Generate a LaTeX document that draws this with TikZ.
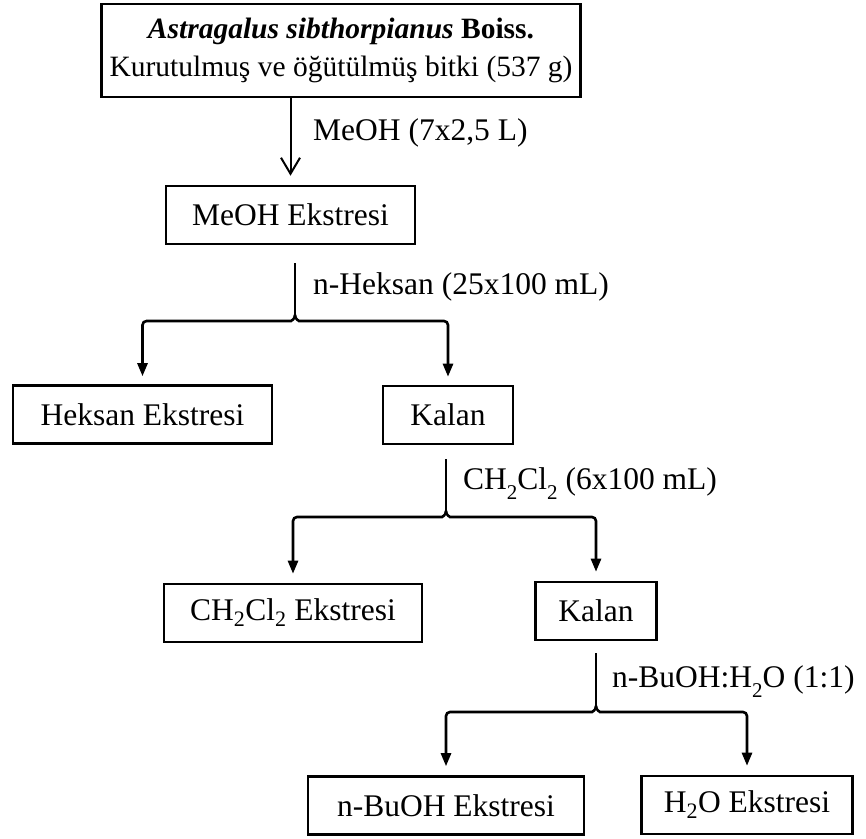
\documentclass[tikz,border=0pt]{standalone}
\usepackage{fontspec}
\setmainfont{Liberation Serif}
\usepackage{tikz}
\usetikzlibrary{arrows.meta, positioning, calc}
\newcommand{\mainsize}{\fontsize{31.5}{38}\selectfont}
\newcommand{\topsize}{\fontsize{29.5}{38}\selectfont}
\newcommand{\lowtwo}{\raisebox{-0.32em}{\fontsize{21}{21}\selectfont 2}}
\tikzset{
  box/.style={rectangle, draw=black, line width=2.6pt, inner xsep=8pt,
    inner ysep=0pt, minimum height=58pt, align=center, font=\mainsize},
  lbl/.style={anchor=west, inner sep=0pt, font=\mainsize},
  line/.style={line width=2.6pt, color=black},
  openarrow/.style={line width=2pt, -{Straight Barb[length=16pt,width=19pt]}},
  arrow/.style={line width=2.6pt, -{Triangle[length=13pt,width=10pt]}}
}

\begin{document}
\begin{tikzpicture}[x=1pt,y=-1pt]
  \useasboundingbox (0,0) rectangle (866,838);
  % boxes
  \node[box, font=\topsize, minimum width=474pt, minimum height=93pt] (plant) at (341,50.5)
    {\textbf{\textit{Astragalus sibthorpianus}} \textbf{Boiss.}\\Kurutulmuş ve öğütülmüş bitki (537 g)};
  \node[box, minimum width=249pt] (meoh) at (290.5,215) {MeOH Ekstresi};
  \node[box, minimum width=259pt] (hex) at (142.5,414.5) {Heksan Ekstresi};
  \node[box, minimum width=130pt] (kal1) at (448,415) {Kalan};
  \node[box, minimum width=258pt] (dcm) at (293,613) {CH\textsubscript{2}Cl\textsubscript{2} Ekstresi};
  \node[box, minimum width=121pt] (kal2) at (596,611) {Kalan};
  \node[box, minimum width=276pt] (buoh) at (446,805.5) {n-BuOH Ekstresi};
  \node[box, minimum width=211pt] (water) at (747,805) {H\textsubscript{2}O Ekstresi};

  % solvent labels
  \node[lbl] (l1) at (313,133) {MeOH (7x2,5 L)};
  \node[lbl] (l2) at (313,287) {n-Heksan (25x100 mL)};
  \node[lbl] (l3) at (463,484) {CH\lowtwo Cl\lowtwo\ (6x100 mL)};
  \node[lbl] (l4) at (612,682) {n-BuOH:H\lowtwo O (1:1)};

  % connectors
  \draw[openarrow, shorten >=9pt] (plant.south -| meoh.north) -- (meoh.north);

  \coordinate (c1) at (295,315);
  \coordinate (c2) at (446,511);
  \coordinate (c3) at (596,706);

  \draw[line, shorten <=18pt] (meoh.south -| c1) -- (c1);
  \draw[arrow, rounded corners=4pt, shorten >=8pt] (c1) .. controls +(0,5) and +(3,0) .. +(-8,6) -| (hex.north);
  \draw[arrow, rounded corners=4pt, shorten >=8pt] (c1) .. controls +(0,5) and +(-3,0) .. +(8,6) -| (kal1.north);

  \draw[line, shorten <=14pt] (kal1.south -| c2) -- (c2);
  \draw[arrow, rounded corners=4pt, shorten >=9pt] (c2) .. controls +(0,5) and +(3,0) .. +(-8,6) -| (dcm.north);
  \draw[arrow, rounded corners=4pt, shorten >=9pt] (c2) .. controls +(0,5) and +(-3,0) .. +(8,6) -| (kal2.north);

  \draw[line, shorten <=12pt] (kal2.south -| c3) -- (c3);
  \draw[arrow, rounded corners=4pt, shorten >=9pt] (c3) .. controls +(0,5) and +(3,0) .. +(-8,6) -| (buoh.north);
  \draw[arrow, rounded corners=4pt, shorten >=9pt] (c3) .. controls +(0,5) and +(-3,0) .. +(8,6) -| (water.north);
\end{tikzpicture}
\end{document}
